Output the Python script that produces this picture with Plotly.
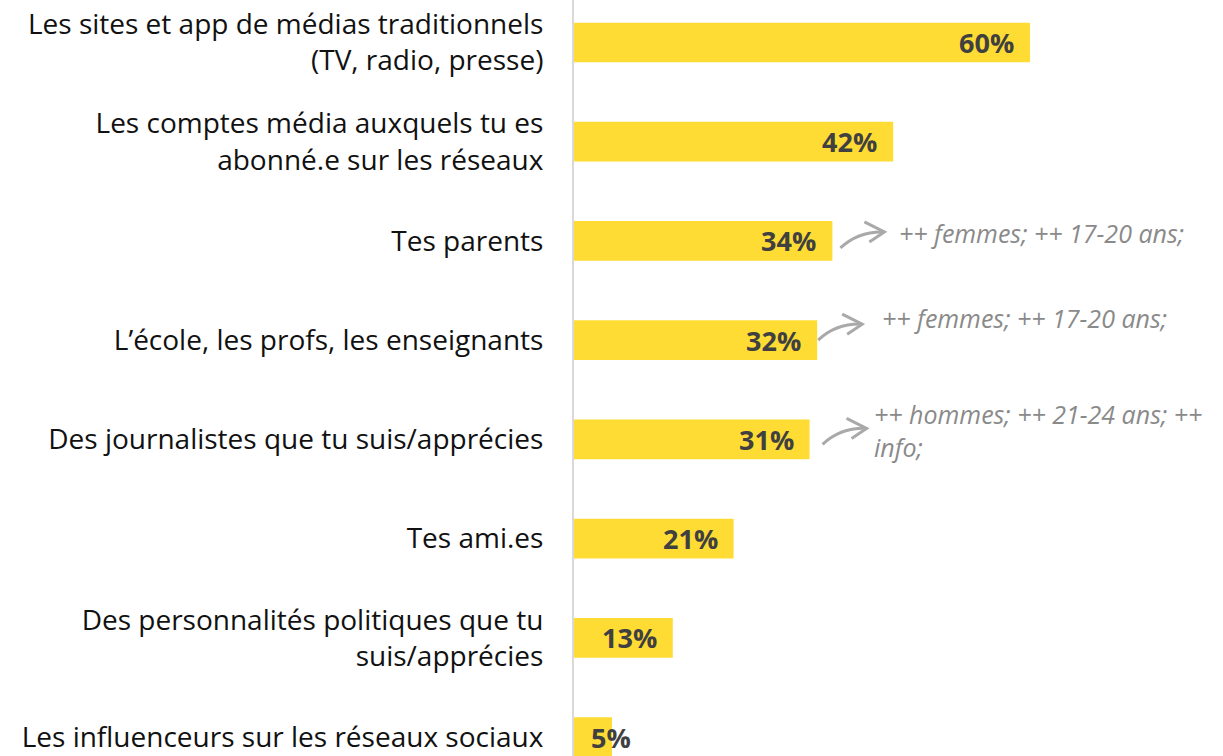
import plotly.graph_objects as go

# Sources d'information jugées fiables (% de répondants)
categories = [
    "Les sites et app de médias traditionnels<br>(TV, radio, presse)",
    "Les comptes média auxquels tu es<br>abonné.e sur les réseaux",
    "Tes parents",
    "L’école, les profs, les enseignants",
    "Des journalistes que tu suis/apprécies",
    "Tes ami.es",
    "Des personnalités politiques que tu<br>suis/apprécies",
    "Les influenceurs sur les réseaux sociaux",
]
values = [60, 42, 34, 32, 31, 21, 13, 5]

# Profils sur-représentés pour certaines sources
notes = {
    2: "++ femmes; ++ 17-20 ans;",
    3: "++ femmes; ++ 17-20 ans;",
    4: "++ hommes; ++ 21-24 ans; ++<br>info;",
}

FONT = "Open Sans"
YELLOW = "#FFDC34"
GREY_NOTE = "#8a8a8a"
ARROW = "#a9a9a9"

# pixel scale helpers for placing the small arrows next to the bars
PX_X = 7.6    # pixels per percentage point
PX_Y = 99.2   # pixels per category step

pos = list(range(len(categories)))

fig = go.Figure(
    go.Bar(
        x=values,
        y=pos,
        orientation="h",
        marker=dict(color=YELLOW, line=dict(width=0)),
        width=0.4,
        hoverinfo="skip",
    )
)

annotations = []
shapes = []
for i, v in enumerate(values):
    if v >= 10:
        annotations.append(dict(
            x=v, y=i, xref="x", yref="y", text=f"<b>{v}%</b>",
            showarrow=False, xanchor="right", xshift=-14,
            font=dict(family=FONT, size=27, color="#404040"),
        ))
    else:
        annotations.append(dict(
            x=0, y=i, xref="x", yref="y", text=f"<b>{v}%</b>",
            showarrow=False, xanchor="left", xshift=15,
            font=dict(family=FONT, size=27, color="#404040"),
        ))

# (arrow gap px, arrow dy px, note x px from bar end, note dy px)
note_layout = {
    2: (8, 7, 65, -8),
    3: (1, 0, 63, -22),
    4: (13, 5, 62, -9),
}
for i, txt in notes.items():
    v = values[i]
    gap, ady, ndx, ndy = note_layout[i]
    sx, sy = v + gap / PX_X, i + ady / PX_Y
    tx, ty = sx + 44 / PX_X, sy - 16 / PX_Y
    cx, cy = sx + 18 / PX_X, sy - 17 / PX_Y
    shapes.append(dict(
        type="path", xref="x", yref="y",
        path=f"M {sx},{sy} Q {cx},{cy} {tx},{ty}",
        line=dict(color=ARROW, width=3),
    ))
    shapes.append(dict(
        type="path", xref="x", yref="y",
        path=(f"M {tx - 20 / PX_X},{ty - 10 / PX_Y} L {tx},{ty} "
              f"L {tx - 15 / PX_X},{ty + 10 / PX_Y}"),
        line=dict(color=ARROW, width=3),
    ))
    annotations.append(dict(
        x=v + ndx / PX_X, y=i + ndy / PX_Y, xref="x", yref="y",
        text=f"<i>{txt}</i>",
        showarrow=False, xanchor="left", yanchor="middle", align="left",
        font=dict(family=FONT, size=25, color=GREY_NOTE),
    ))

fig.update_layout(
    width=1223,
    height=756,
    margin=dict(l=574, r=0, t=0, b=0),
    paper_bgcolor="white",
    plot_bgcolor="white",
    showlegend=False,
    annotations=annotations,
    shapes=shapes,
    xaxis=dict(
        range=[0, 85.4], showgrid=False, zeroline=False,
        showticklabels=False, fixedrange=True,
    ),
    yaxis=dict(
        range=[7.19, -0.428],
        tickvals=pos, ticktext=categories,
        showgrid=False, zeroline=False,
        showline=True, linecolor="#d9d9d9", linewidth=2,
        ticks="", ticklabelstandoff=23,
        tickfont=dict(family=FONT, size=28, color="#111111"),
        fixedrange=True,
    ),
)

fig.write_html("out.html")
